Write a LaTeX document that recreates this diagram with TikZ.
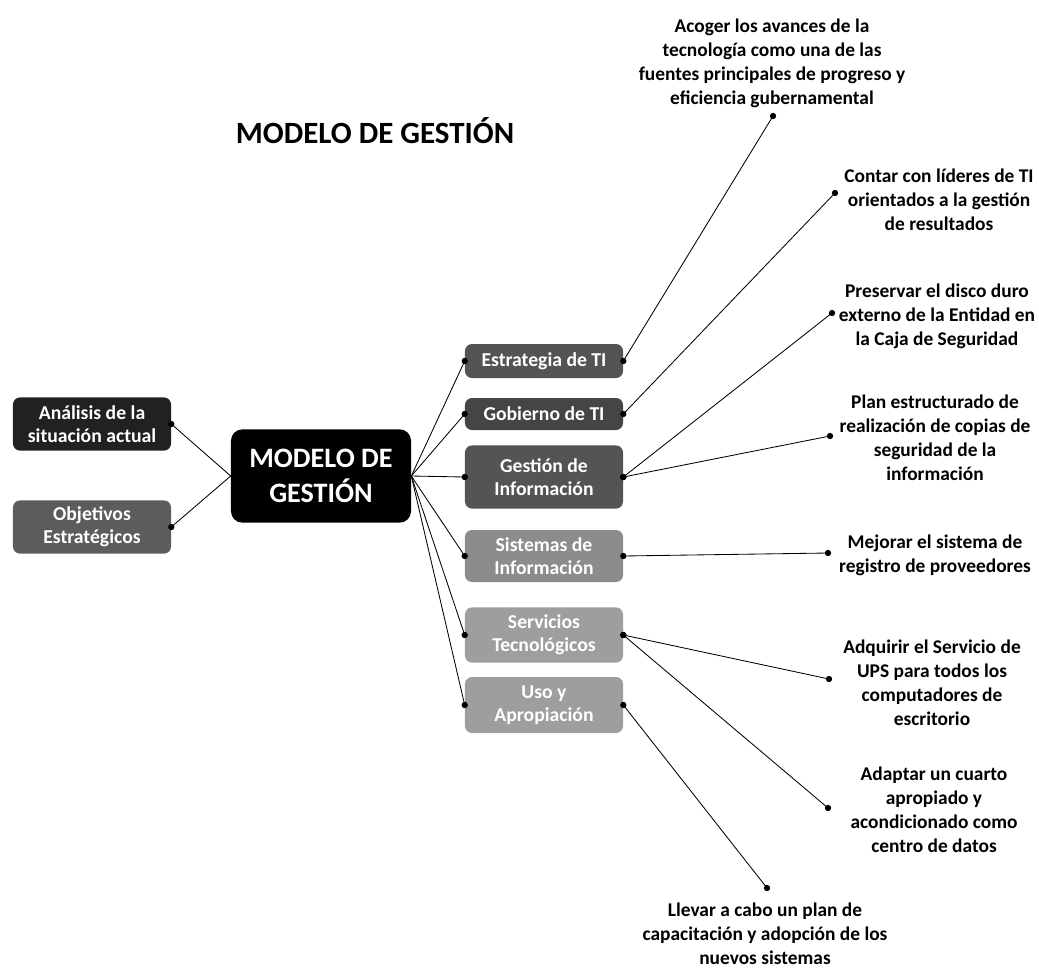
\documentclass[tikz,border=0pt]{standalone}
\usepackage{fontspec}
\setmainfont{Carlito}
\usetikzlibrary{positioning}

\definecolor{boxA}{gray}{0.13}
\definecolor{boxB}{gray}{0.36}
\definecolor{boxC}{gray}{0.33}
\definecolor{boxD}{gray}{0.27}
\definecolor{boxE}{gray}{0.55}
\definecolor{boxF}{gray}{0.62}

\tikzset{
    hub/.style={fill=black, rounded corners=8pt, text=white, align=center,
                minimum width=4.5cm, minimum height=2.33cm,
                font=\bfseries\fontsize{20}{25}\selectfont},
    box/.style={fill=#1, rounded corners=5pt, text=white, align=center,
                minimum width=3.95cm, inner sep=1pt,
                font=\bfseries\fontsize{14}{16.5}\selectfont},
    leaf/.style={align=center, inner sep=1pt, font=\bfseries\fontsize{13.8}{17}\selectfont},
    dot/.style={circle, fill=black, inner sep=0pt, minimum size=4.5pt},
    link/.style={line width=0.6pt}
}

\begin{document}
\begin{tikzpicture}[x=0.025cm, y=-0.025cm]
        \useasboundingbox (0,0) rectangle (1039,968);
        \node (title) at (375,131) [font=\bfseries\fontsize{22}{26}\selectfont] {MODELO DE GESTIÓN};
        \node (hub) at (321,476) [hub] {MODELO DE\\GESTIÓN};
        % left
        \node (analisis)  at (92,424) [box=boxA, minimum height=1.33cm] {Análisis de la\\situación actual};
        \node (objetivos) at (92,527) [box=boxB, minimum height=1.33cm] {Objetivos\\Estratégicos};
        \foreach \b in {analisis, objetivos}
            \draw[link] (hub.west) -- (\b.east) node[dot] {};
        % right
        \node (estrategia) at (544,361) [box=boxC, minimum height=0.85cm] {Estrategia de TI};
        \node (gobierno)   at (544,414) [box=boxD, minimum height=0.8cm]  {Gobierno de TI};
        \node (gestion)    at (544,477) [box=boxC, minimum height=1.58cm] {Gestión de\\Información};
        \node (sistemas)   at (544,556) [box=boxE, minimum height=1.3cm]  {Sistemas de\\Información};
        \node (servicios)  at (544,635) [box=boxF, minimum height=1.38cm] {Servicios\\Tecnológicos};
        \node (uso)        at (544,705) [box=boxF, minimum height=1.4cm]  {Uso y\\Apropiación};
        \foreach \b in {estrategia, gobierno, gestion, sistemas, servicios, uso}
            \draw[link] (hub.east) -- (\b.west) node[dot] {};
        % leaves
        \node (acoger)    at (772,63)  [leaf] {Acoger los avances de la\\tecnología como una de las\\fuentes principales de progreso y\\eficiencia gubernamental};
        \node (contar)    at (939,200) [leaf] {Contar con líderes de TI\\orientados a la gestión\\de resultados};
        \node (preservar) at (937,316) [leaf] {Preservar el disco duro\\externo de la Entidad en\\la Caja de Seguridad};
        \node (plan)      at (935,438) [leaf] {Plan estructurado de\\realización de copias de\\seguridad de la\\información};
        \node (mejorar)   at (935,555) [leaf] {Mejorar el sistema de\\registro de proveedores};
        \node (adquirir)  at (932,683) [leaf] {Adquirir el Servicio de\\UPS para todos los\\computadores de\\escritorio};
        \node (adaptar)   at (934,810) [leaf] {Adaptar un cuarto\\apropiado y\\acondicionado como\\centro de datos};
        \node (llevar)    at (765,934) [leaf] {Llevar a cabo un plan de\\capacitación y adopción de los\\nuevos sistemas};
        % leaf anchors
        \coordinate (d-acoger)    at (773,116);
        \coordinate (d-contar)    at (835,193);
        \coordinate (d-preservar) at (832,313);
        \coordinate (d-plan)      at (830,436);
        \coordinate (d-mejorar)   at (828,553);
        \coordinate (d-adquirir)  at (829,679);
        \coordinate (d-adaptar)   at (828,808);
        \coordinate (d-llevar)    at (767,888);
        \foreach \b/\l in {estrategia/acoger, gobierno/contar, gestion/preservar, gestion/plan,
                           sistemas/mejorar, servicios/adquirir, servicios/adaptar, uso/llevar}
            \draw[link] (\b.east) node[dot] {} -- (d-\l) node[dot] {};
        %
\end{tikzpicture}
\end{document}
